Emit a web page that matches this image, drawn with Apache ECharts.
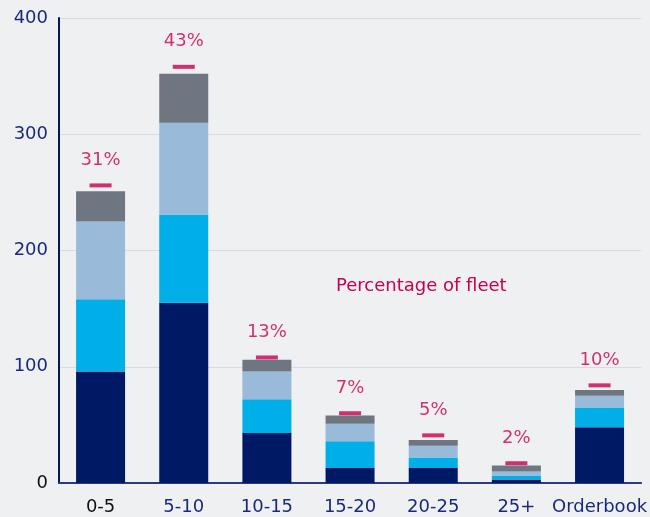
<!DOCTYPE html>
<html>
<head>
<meta charset="utf-8">
<script src="https://cdn.jsdelivr.net/npm/echarts@6/dist/echarts.min.js"></script>
<style>
  html, body { margin: 0; padding: 0; background: #eff0f2; }
  #chart { width: 650px; height: 517px; }
</style>
</head>
<body>
<div id="chart"></div>
<script>
const categories = ['0-5', '5-10', '10-15', '15-20', '20-25', '25+', 'Orderbook']
const seg1 = [96, 155, 43, 13, 13, 3, 48]
const seg2 = [62, 76, 29, 23, 9, 3.5, 17]
const seg3 = [67, 79, 24, 15, 10, 3.5, 10]
const seg4 = [26, 42, 10, 7, 5, 5, 5]
const markerValues = [256, 358, 108, 60, 41, 17, 84]
const shareLabels = ['31%', '43%', '13%', '7%', '5%', '2%', '10%']
const yTicks = [0, 100, 200, 300, 400]

const navy = '#001965'
const crimson = '#c8004f'
const font = 'DejaVu Sans'

const bar = (data, color) => ({
  type: 'bar',
  stack: 'fleet',
  barWidth: 49,
  itemStyle: { color: color },
  data: data
})

const chart = echarts.init(document.getElementById('chart'))
chart.setOption({
  backgroundColor: '#eff0f2',
  animation: false,
  grid: { left: 59, right: 8, top: 18, bottom: 34 },
  xAxis: {
    type: 'category',
    data: categories,
    axisLine: { lineStyle: { color: '#2a3a85', width: 2 } },
    axisTick: { show: false },
    axisLabel: {
      interval: 0,
      margin: 15,
      fontFamily: font,
      fontSize: 18,
      color: '#1a2a78',
      formatter: (v, i) => i === 0 ? '{k|' + v + '}' : v,
      rich: { k: { color: '#111', fontFamily: font, fontSize: 18 } }
    }
  },
  yAxis: {
    type: 'value',
    min: yTicks[0],
    max: yTicks[yTicks.length - 1],
    interval: 100,
    axisLine: { show: true, lineStyle: { color: navy, width: 2 } },
    axisTick: { show: false },
    splitLine: { lineStyle: { color: '#d8dadf', width: 1 } },
    axisLabel: {
      margin: 11,
      fontFamily: font,
      fontSize: 18,
      color: '#1a2a78',
      formatter: v => v === 0 ? '{k|0}' : String(v),
      rich: { k: { color: '#111', fontFamily: font, fontSize: 18 } }
    }
  },
  series: [
    bar(seg1, navy),
    bar(seg2, '#00aee8'),
    bar(seg3, '#99bbd9'),
    bar(seg4, '#6e7781'),
    {
      type: 'scatter',
      symbol: 'rect',
      symbolSize: [22, 4],
      itemStyle: { color: crimson },
      z: 5,
      label: {
        show: true,
        position: 'top',
        distance: 14,
        fontFamily: font,
        fontSize: 18,
        color: crimson,
        formatter: p => shareLabels[p.dataIndex]
      },
      data: markerValues
    }
  ],
  graphic: [{
    type: 'text',
    left: 336,
    top: 277,
    style: {
      text: 'Percentage of fleet',
      fill: crimson,
      font: '18px "DejaVu Sans"'
    }
  }]
})
</script>
</body>
</html>
